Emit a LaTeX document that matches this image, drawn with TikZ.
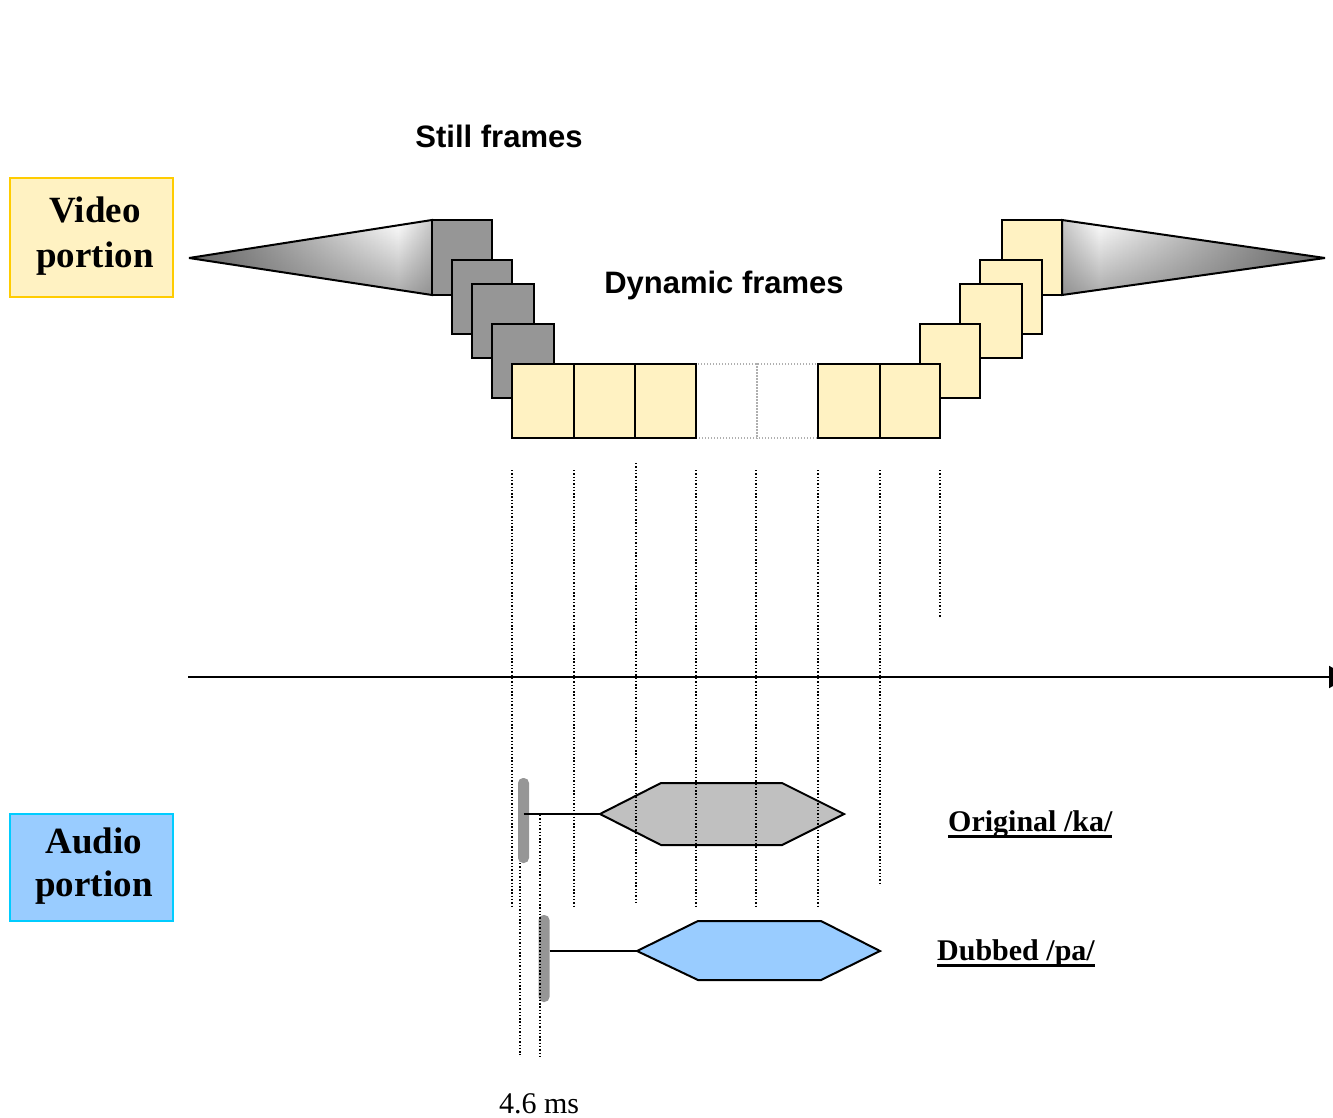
\documentclass[tikz,border=0pt]{standalone}
\usepackage{fontspec}
\setmainfont{Liberation Serif}
\newfontfamily\arialfont{Liberation Sans}
\usetikzlibrary{arrows.meta,fadings}
\definecolor{frameyellow}{RGB}{255,242,194}
\definecolor{framegray}{RGB}{150,150,150}
\definecolor{goldborder}{RGB}{255,204,0}
\definecolor{audioblue}{RGB}{153,204,255}
\definecolor{audioborder}{RGB}{0,204,255}
\definecolor{hexgray}{RGB}{192,192,192}
\definecolor{conedark}{RGB}{100,100,100}
\definecolor{conelight}{RGB}{200,200,200}
\definecolor{dotgray}{RGB}{175,175,175}
\pgfdeclarehorizontalshading{coneL}{100bp}{color(0bp)=(conedark); color(25bp)=(conedark); color(68bp)=(white); color(75bp)=(conelight); color(100bp)=(conelight)}
\pgfdeclarehorizontalshading{coneR}{100bp}{color(0bp)=(conelight); color(25bp)=(conelight); color(32bp)=(white); color(75bp)=(conedark); color(100bp)=(conedark)}
\newcommand\myul[1]{\setbox0\hbox{#1}\rlap{\rule[-7pt]{\wd0}{3pt}}\box0}
\tikzset{
  frm/.style={draw=black, line width=2pt, inner sep=0pt, minimum height=74pt},
  yfrm/.style={frm, fill=frameyellow},
  gfrm/.style={frm, fill=framegray},
  efrm/.style={draw=dotgray, line width=1.2pt, dash pattern=on 1.2pt off 1.8pt, inner sep=0pt, minimum height=74pt},
  dotline/.style={line width=1.5pt, dash pattern=on 1.4pt off 1.9pt},
  conn/.style={line width=2pt},
  bar/.style={fill=framegray, rounded corners=5pt, minimum width=11pt, inner sep=0pt},
  cone/.style={draw=black, line width=2pt, miter limit=2},
  sanslbl/.style={font=\arialfont\bfseries\fontsize{31}{37}\selectfont, inner sep=0pt, anchor=base},
  seriflbl/.style={font=\bfseries\fontsize{30}{36}\selectfont, inner sep=0pt, anchor=base west},
  portion/.style={line width=2pt, inner sep=0pt, align=center, minimum width=163pt, font=\bfseries\fontsize{37}{45}\selectfont}
}
\begin{document}
\begin{tikzpicture}[x=1pt,y=-1pt]
\useasboundingbox (0,0) rectangle (1333,1118);

% side labels
\node[portion, draw=goldborder, fill=frameyellow, minimum height=119pt] (video) at (91.5,237.5) {};
\node[font=\bfseries\fontsize{37}{45}\selectfont, align=center, inner sep=0pt] (videotxt) at (95,236) {Video\\portion};
\node[portion, draw=audioborder, fill=audioblue, minimum height=107pt] (audio) at (91.5,867.5) {};
\node[font=\bfseries\fontsize{37}{43}\selectfont, align=center, inner sep=0pt] (audiotxt) at (94,866) {Audio\\portion};

% cones
\coordinate (coneLtip) at (189,258);
\coordinate (coneRtip) at (1325,258);
\path[shading=coneL] (coneLtip) -- (432,220) -- (432,295) -- cycle;
\fill[conedark, path fading=north, fill opacity=0.55] (coneLtip) -- (432,220) -- (432,295) -- cycle;
\draw[cone] (coneLtip) -- (432,220) -- (432,295) -- cycle;
\path[shading=coneR] (coneRtip) -- (1062,220) -- (1062,295) -- cycle;
\fill[conedark, path fading=north, fill opacity=0.55] (coneRtip) -- (1062,220) -- (1062,295) -- cycle;
\draw[cone] (coneRtip) -- (1062,220) -- (1062,295) -- cycle;

% still (gray) frames, left
\node[gfrm, minimum width=60pt, minimum height=75pt] (L1) at (462,257.5) {};
\node[gfrm, minimum width=60pt] (L2) at (482,297) {};
\node[gfrm, minimum width=62pt] (L3) at (503,321) {};
\node[gfrm, minimum width=62pt] (L4) at (523,361) {};
% still (yellow) frames, right
\node[yfrm, minimum width=60pt, minimum height=75pt] (R1) at (1032,257.5) {};
\node[yfrm, minimum width=62pt] (R2) at (1011,297) {};
\node[yfrm, minimum width=62pt] (R3) at (991,321) {};
\node[yfrm, minimum width=60pt] (R4) at (950,361) {};
% dynamic frames
\node[efrm, minimum width=122pt] (D) at (757,401) {};
\draw[draw=dotgray, line width=1.2pt, dash pattern=on 1.2pt off 1.8pt] (D.north) -- (D.south);
\node[yfrm, minimum width=62pt] (B1) at (543,401) {};
\node[yfrm, minimum width=61pt] (B2) at (604.5,401) {};
\node[yfrm, minimum width=61pt] (B3) at (665.5,401) {};
\node[yfrm, minimum width=62pt] (B4) at (849,401) {};
\node[yfrm, minimum width=60pt] (B5) at (910,401) {};

% texts
\node[sanslbl] (still) at (499,148) {Still frames};
\node[sanslbl] (dyn) at (724,293) {Dynamic frames};

% time axis
\coordinate (axisL) at (188,677);
\coordinate (axisR) at (1349,677);
\draw[line width=2pt, -{Triangle[length=20pt,width=22pt]}] (axisL) -- (axisR);

% audio: original
\coordinate (kaL) at (600,814);
\draw[line width=2pt, fill=hexgray] (kaL) -- (661,783) -- (782,783) -- (844,814) -- (782,845) -- (661,845) -- cycle;
\node[bar, minimum height=85pt] (barA) at (523.5,820.5) {};
\draw[conn] (barA.center |- kaL) -- (kaL);

% audio: dubbed
\coordinate (paL) at (637,951);
\draw[line width=2pt, fill=audioblue] (paL) -- (698,921) -- (821,921) -- (880,951) -- (821,980) -- (698,980) -- cycle;
\node[bar, minimum height=87pt] (barB) at (544,958.5) {};
\draw[conn] (barB.east |- paL) -- (paL);

% dotted guide lines
\foreach \x/\a/\b in {512/470/906, 574/470/906, 636/463/905, 696/470/906, 756/470/906, 818/470/906, 880/470/885, 940/470/617}
  \draw[dotline] (\x,\a) -- (\x,\b);
\draw[dotline] (520,863) -- (520,1055);
\draw[dotline] (540,815) -- (540,1057);

% labels
\node[seriflbl] (ka) at (948,831) {\myul{Original /ka/}};
\node[seriflbl] (pa) at (937,960) {\myul{Dubbed /pa/}};
\node[font=\fontsize{30}{36}\selectfont, inner sep=0pt, anchor=base] (ms) at (539,1113) {4.6 ms};
\end{tikzpicture}
\end{document}
